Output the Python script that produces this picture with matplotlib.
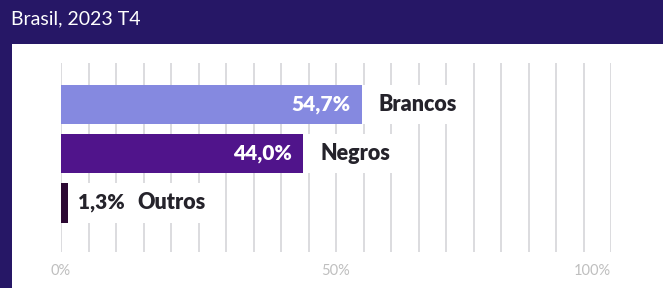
import numpy as np
import matplotlib.pyplot as plt
from matplotlib.patches import Rectangle

# data
categories = ['Brancos', 'Negros', 'Outros']
values = [54.7, 44.0, 1.3]
value_labels = ['54,7%', '44,0%', '1,3%']
bar_colors = ['#8589e0', '#50148b', '#2c0833']
tick_pos = [0, 50, 100]
tick_text = ['0%', '50%', '100%']
subtitle = 'Brasil, 2023 T4'

bg = '#261766'
W, H = 663, 288
fig = plt.figure(figsize=(W / 100, H / 100), dpi=100, facecolor=bg)

# white panel
fig.patches.append(Rectangle((12 / W, 0), 1, (H - 44) / H, transform=fig.transFigure,
                             facecolor='white', edgecolor='none', zorder=-1))
fig.text(11 / W, 1 - 19 / H, subtitle, color='white', fontsize=14, family='Lato',
         va='center', ha='left')

ax = fig.add_axes([61 / W, (H - 252) / H, 550 / W, 189 / H])
ax.set_facecolor('none')
ax.set_xlim(0, 100)
ax.set_ylim(3.01, -0.847)
y = np.arange(len(categories))
ax.barh(y, values, height=0.816, color=bar_colors, zorder=3)

ax.set_xticks(np.arange(0, 101, 5))
ax.set_xticklabels([''] * 21)
ax.tick_params(length=0)
ax.set_yticks([])
ax.grid(axis='x', color='#d2d2d6', linewidth=1.1)
ax.set_axisbelow(True)
for s in ax.spines.values():
    s.set_visible(False)
for p, t in zip(tick_pos, tick_text):
    ax.text(p, -0.1, t, transform=ax.get_xaxis_transform(),
            ha='right' if p == 100 else 'center',
            va='center', color='#bfbfbf', fontsize=10.5, family='Lato')

fig.canvas.draw()
r = fig.canvas.get_renderer()
px = 100 / 550  # data units per pixel
for i, (v, vl, c) in enumerate(zip(values, value_labels, categories)):
    if v > 10:
        ax.text(v - 11 * px, i, vl, color='white', fontsize=15, fontweight='heavy',
                family='Lato', ha='right', va='center', zorder=5)
        x0 = v + 17 * px
    else:
        t = ax.text(v + 10 * px, i, vl, color='#25232b', fontsize=15, fontweight='heavy',
                    family='Lato', ha='left', va='center', zorder=5)
        bb = t.get_window_extent(r)
        x0 = ax.transData.inverted().transform((bb.x1, 0))[0] + 12 * px
    t = ax.text(x0, i, c, color='#25232b', fontsize=15.5, fontweight='heavy',
                family='Lato', ha='left', va='center', zorder=5)
    bb = t.get_window_extent(r)
    x1 = ax.transData.inverted().transform((bb.x1, 0))[0] + 12 * px
    ax.barh(i, x1 - v, left=v, height=0.816, color='white', zorder=2)

fig.savefig('out.png', dpi=100, facecolor=bg)
